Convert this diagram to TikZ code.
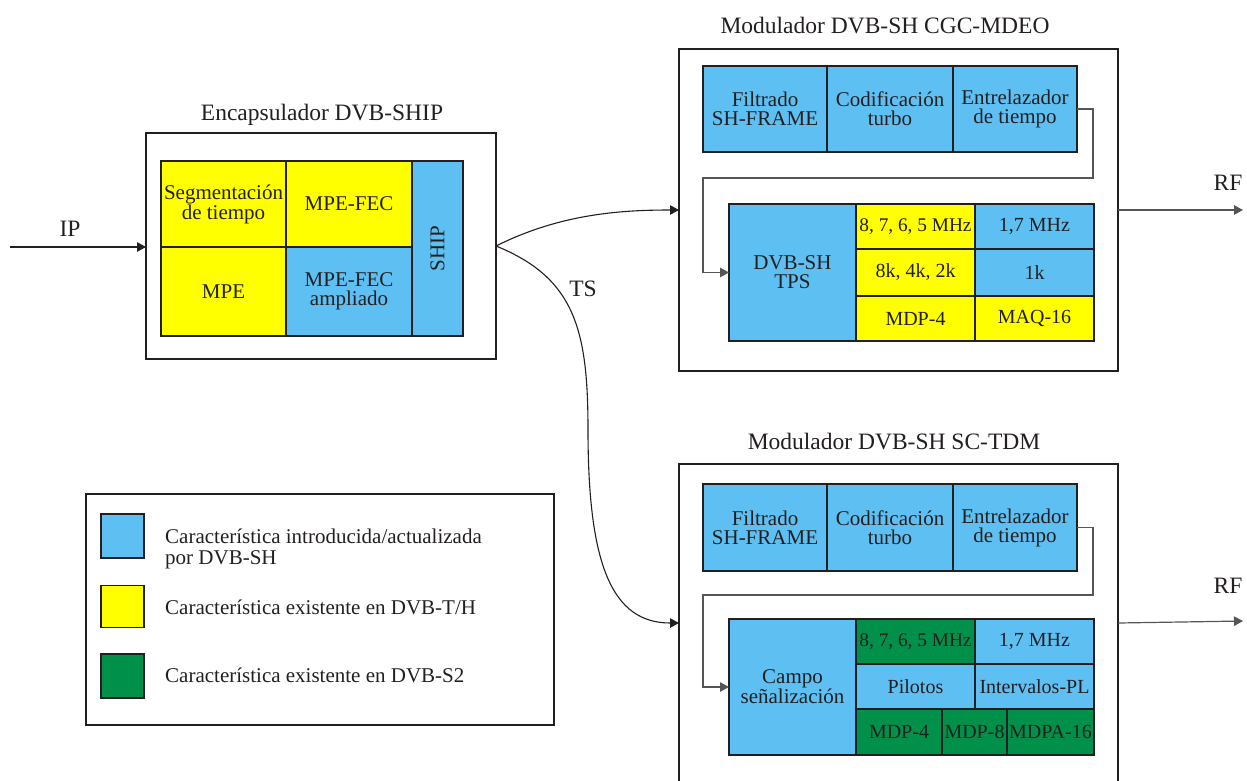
\documentclass[tikz,border=0pt]{standalone}
\usepackage{fontspec}
\setmainfont{Liberation Serif}
\usetikzlibrary{arrows.meta}
\definecolor{ink}{HTML}{231F20}
\definecolor{cblue}{HTML}{5EBFF2}
\definecolor{cyel}{HTML}{FFFF00}
\definecolor{cgreen}{HTML}{00904A}
\definecolor{wirec}{HTML}{555555}
\begin{document}
\begin{tikzpicture}[x=1pt,y=-1pt,
  box/.style={draw=ink, line width=1.8pt, inner sep=0pt, outer sep=0pt},
  cell/.style={draw=ink, line width=1.8pt, inner sep=0pt, outer sep=0pt, align=center, text=ink, font=\fontsize{21}{19}\selectfont},
  gcell/.style={cell, font=\fontsize{20}{18}\selectfont},
  title/.style={text=ink, inner sep=0pt, font=\fontsize{23.5}{24}\selectfont},
  lbl/.style={text=ink, inner sep=0pt, font=\fontsize{23.5}{24}\selectfont},
  legtext/.style={text=ink, inner sep=0pt, align=left, anchor=west, font=\fontsize{21}{21}\selectfont},
  wire/.style={draw=wirec, line width=1.2pt},
  tip/.style={-{Triangle[length=9pt,width=9.5pt]}},
  conn/.style={draw=ink, line width=1.1pt}
]
\useasboundingbox (0,0) rectangle (1247,780);

% ---------------- Encapsulador ----------------
\node[title, anchor=base] (enct) at (322,120) {Encapsulador DVB-SHIP};
\node[box, minimum width=350, minimum height=226] (enc) at (321,246) {};
\node[cell, fill=cyel, minimum width=125, minimum height=86] (seg) at (223.5,204) {\fontsize{21}{21}\selectfont Segmentación\\de tiempo};
\node[cell, fill=cyel, minimum width=126, minimum height=86] (mpefec) at (349,204) {MPE-FEC};
\node[cell, fill=cyel, minimum width=125, minimum height=89] (mpe) at (223.5,291.5) {MPE};
\node[cell, fill=cblue, minimum width=126, minimum height=89] (mpefeca) at (349,291.5) {\fontsize{21}{21}\selectfont MPE-FEC\\ampliado};
\node[cell, fill=cblue, minimum width=51, minimum height=175] (ship) at (437.5,248.5) {};
\node[text=ink, inner sep=0pt, rotate=90, font=\fontsize{21}{21}\selectfont] (shipt) at (ship.center) {SHIP};

\coordinate (ipin) at (10,247);
\draw[conn, tip] (ipin) -- (ipin -| enc.west);
\node[lbl, anchor=base] (ip) at (70,236) {IP};

% ---------------- Modulador CGC-MDEO ----------------
\node[title, anchor=base] (m1t) at (885,33) {Modulador DVB-SH CGC-MDEO};
\node[box, minimum width=439, minimum height=322] (m1) at (898.5,210) {};
\node[cell, fill=cblue, minimum width=124, minimum height=86] (filt) at (765,109) {Filtrado\\SH-FRAME};
\node[cell, fill=cblue, minimum width=126, minimum height=86] (cod) at (890,109) {Codificación\\turbo};
\node[cell, fill=cblue, minimum width=124, minimum height=86] (ent) at (1015,109) {Entrelazador\\de tiempo};
\node[cell, fill=cblue, minimum width=127, minimum height=137] (tps) at (792.5,272.5) {\fontsize{21}{19}\selectfont DVB-SH\\TPS};
\node[gcell, fill=cyel, minimum width=119, minimum height=45] (a11) at (915.5,226.5) {\fontsize{19.3}{18}\selectfont 8, 7, 6, 5 MHz};
\node[gcell, fill=cblue, minimum width=119, minimum height=45] (a12) at (1034.5,226.5) {1,7 MHz};
\node[gcell, fill=cyel, minimum width=119, minimum height=47] (a21) at (915.5,272.5) {8k, 4k, 2k};
\node[gcell, fill=cblue, minimum width=119, minimum height=47] (a22) at (1034.5,272.5) {1k};
\node[gcell, fill=cyel, minimum width=119, minimum height=45] (a31) at (915.5,318.5) {MDP-4};
\node[gcell, fill=cyel, minimum width=119, minimum height=45] (a32) at (1034.5,318.5) {MAQ-16};

\coordinate (w1a) at (1093,178);
\coordinate (w1b) at (703,178);
\draw[wire, tip] (ent.east) -| (w1a) -- (w1b) |- (tps.west);

\coordinate (rf1) at (1243,210);
\draw[wire, tip] (m1.east) -- (rf1);
\node[lbl, anchor=base] (rf1t) at (1228,190) {RF};

% ---------------- Modulador SC-TDM ----------------
\node[title, anchor=base] (m2t) at (894,449) {Modulador DVB-SH SC-TDM};
\begin{scope}
\clip (0,0) rectangle (1247,780);
\node[box, minimum width=439, minimum height=318] (m2) at (898.5,623) {};
\end{scope}
\node[cell, fill=cblue, minimum width=124, minimum height=87] (filt2) at (765,527.5) {Filtrado\\SH-FRAME};
\node[cell, fill=cblue, minimum width=126, minimum height=87] (cod2) at (890,527.5) {Codificación\\turbo};
\node[cell, fill=cblue, minimum width=124, minimum height=87] (ent2) at (1015,527.5) {Entrelazador\\de tiempo};
\node[cell, fill=cblue, minimum width=127, minimum height=136] (campo) at (792.5,687) {\fontsize{21}{20}\selectfont Campo\\señalización};
\node[gcell, fill=cgreen, minimum width=119, minimum height=45] (b11) at (915.5,641.5) {\fontsize{19.3}{18}\selectfont 8, 7, 6, 5 MHz};
\node[gcell, fill=cblue, minimum width=119, minimum height=45] (b12) at (1034.5,641.5) {1,7 MHz};
\node[gcell, fill=cblue, minimum width=119, minimum height=45] (b21) at (915.5,686.5) {Pilotos};
\node[gcell, fill=cblue, minimum width=119, minimum height=45] (b22) at (1034.5,686.5) {Intervalos-PL};
\node[gcell, fill=cgreen, minimum width=86, minimum height=46] (b31) at (899,732) {MDP-4};
\node[gcell, fill=cgreen, minimum width=65, minimum height=46] (b32) at (974.5,732) {MDP-8};
\node[gcell, fill=cgreen, minimum width=87, minimum height=46] (b33) at (1050.5,732) {MDPA-16};

\coordinate (w2a) at (1093,595);
\coordinate (w2b) at (703,595);
\draw[wire, tip] (ent2.east) -| (w2a) -- (w2b) |- (campo.west);

\coordinate (rf2) at (1243,621);
\draw[wire, tip] (m2.east) -- (rf2);
\node[lbl, anchor=base] (rf2t) at (1228,593) {RF};

% ---------------- TS connectors ----------------
\draw[conn, tip] (enc.east) .. controls (560,214) and (620,210) .. (m1.west);
\draw[conn, tip] (enc.east) .. controls (575,278) and (588,330) .. (588,430) .. controls (588,565) and (612,623) .. (m2.west);
\node[lbl, anchor=base] (ts) at (583,296) {TS};

% ---------------- Legend ----------------
\node[box, minimum width=468, minimum height=231] (leg) at (320,609.5) {};
\node[cell, fill=cblue, minimum width=43, minimum height=44] (lgb) at (122.5,536) {};
\node[cell, fill=cyel, minimum width=43, minimum height=42] (lgy) at (122.5,606.5) {};
\node[cell, fill=cgreen, minimum width=43, minimum height=44] (lgg) at (122.5,676) {};
\node[legtext] (lgbt) at (165,549) {Característica introducida/actualizada\\por DVB-SH};
\node[legtext] (lgyt) at (165,607) {Característica existente en DVB-T/H};
\node[legtext] (lggt) at (165,675) {Característica existente en DVB-S2};
\end{tikzpicture}
\end{document}
